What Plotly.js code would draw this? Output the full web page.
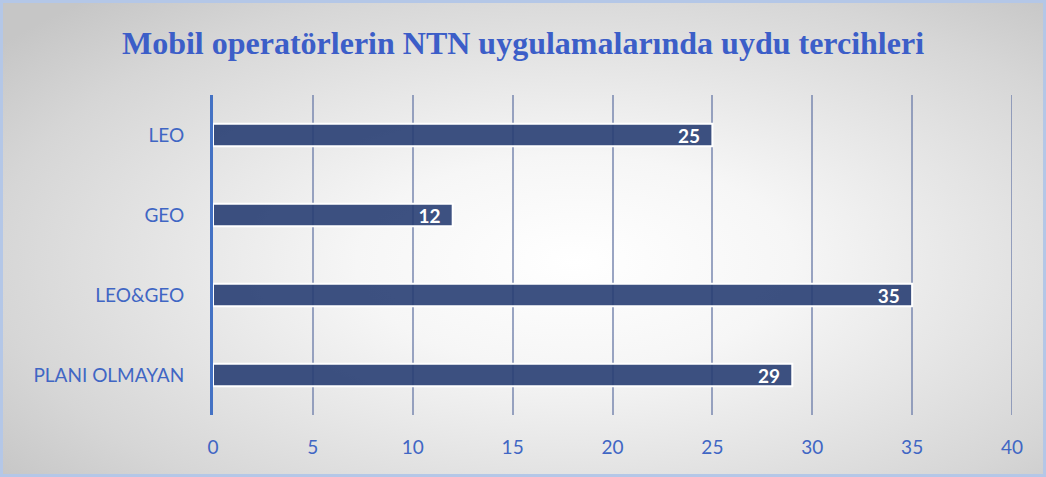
<!DOCTYPE html>
<html>
<head>
<meta charset="utf-8">
<script src="https://cdn.plot.ly/plotly-3.0.1.min.js"></script>
<style>
html,body{margin:0;padding:0;}
#wrap{width:1046px;height:477px;box-sizing:border-box;border:3px solid #b4c7e7;
background:radial-gradient(ellipse 70% 75% at 55% 55%, #ffffff 0%, #f6f6f6 30%, #d6d6d6 80%, #c6c6c6 100%);}
#chart{width:1040px;height:471px;}
</style>
</head>
<body>
<div id="wrap"><div id="chart"></div></div>
<script>
const categories = ["LEO", "GEO", "LEO&GEO", "PLANI OLMAYAN"];
const values = [25, 12, 35, 29];
const tickVals = [0, 5, 10, 15, 20, 25, 30, 35, 40];
const titleText = "Mobil operatörlerin NTN uygulamalarında uydu tercihleri";

const gridColor = "rgba(120,135,175,0.75)";

const trace = {
  type: "bar",
  orientation: "h",
  y: categories,
  x: values,
  width: 0.28,
  marker: {color: "rgba(40,62,115,0.9)", line: {color: "#ffffff", width: 2}},
  text: values.map(v => String(v) + "\u00a0\u00a0"),
  textposition: "inside",
  insidetextanchor: "end",
  constraintext: "none",
  textangle: 0,
  textfont: {family: "Lato, 'Open Sans', sans-serif", size: 19, color: "#ffffff", weight: "bold"},
  hoverinfo: "none"
};

const xMax = tickVals[tickVals.length - 1];

const layout = {
  width: 1040, height: 471,
  margin: {l: 210, r: 31, t: 92, b: 59, pad: 0},
  paper_bgcolor: "rgba(0,0,0,0)",
  plot_bgcolor: "rgba(0,0,0,0)",
  showlegend: false,
  title: {text: "<b>" + titleText + "</b>", x: 0.5, xanchor: "center", y: 0.915, yanchor: "middle",
    font: {family: "'Liberation Serif', 'Times New Roman', serif", size: 32, color: "#3c5ec8"}},
  xaxis: {
    range: [0, xMax], tickvals: tickVals, showgrid: true, gridcolor: gridColor, gridwidth: 2,
    zeroline: false, showline: false, ticks: "", ticklabelstandoff: 19,
    tickfont: {family: "Lato, 'Open Sans', sans-serif", size: 19, color: "#4066c4"}, fixedrange: true
  },
  yaxis: {
    categoryorder: "array", categoryarray: categories, autorange: "reversed",
    showline: true, linecolor: "#4472c4", linewidth: 3, showgrid: false, zeroline: false,
    ticks: "", ticklabelstandoff: 22,
    tickfont: {family: "Lato, 'Open Sans', sans-serif", size: 19, color: "#4066c4"}, fixedrange: true
  },
  shapes: [{type: "line", xref: "x", yref: "paper", x0: xMax, x1: xMax, y0: 0, y1: 1,
    line: {color: gridColor, width: 2}, layer: "below"}]
};

Plotly.newPlot("chart", [trace], layout, {displayModeBar: false, staticPlot: true});
</script>
</body>
</html>
